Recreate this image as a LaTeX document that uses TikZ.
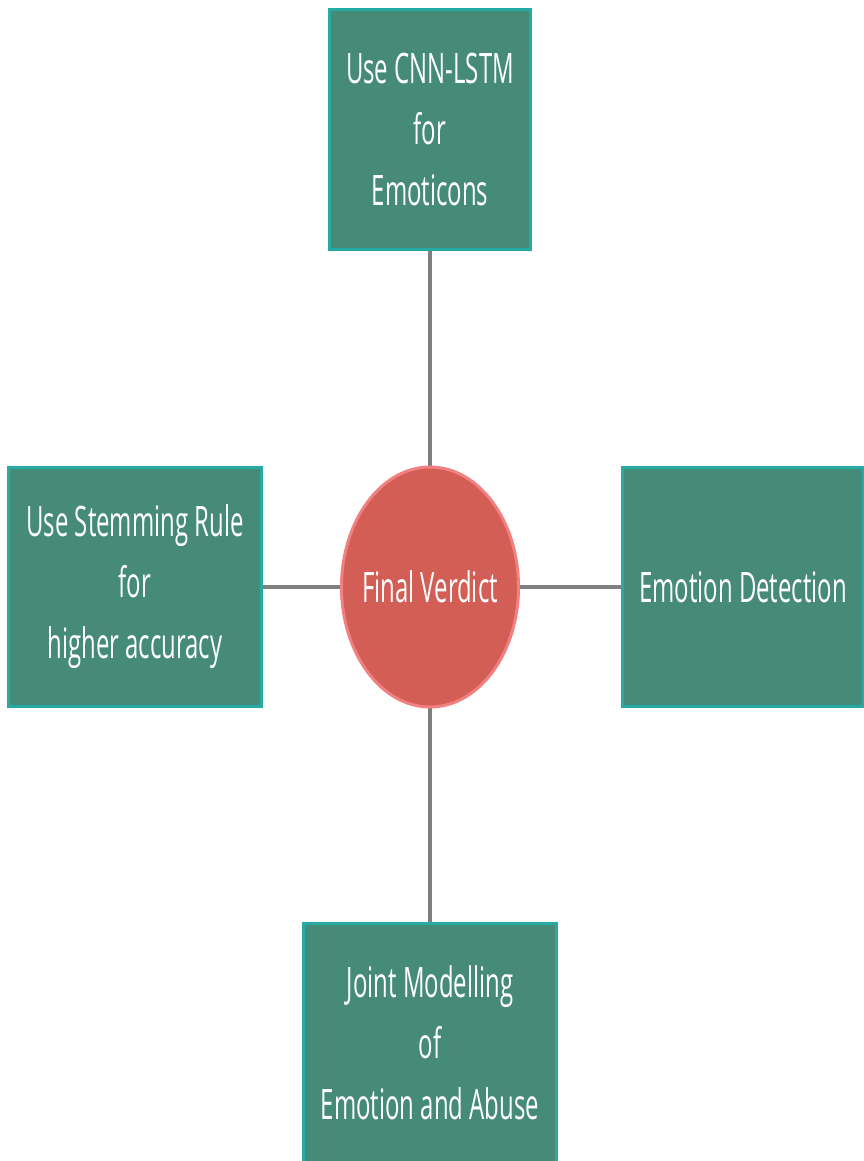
\documentclass[tikz,border=0pt]{standalone}
\usepackage{fontspec}
\setmainfont{Open Sans}[FakeStretch=0.57]
\usetikzlibrary{shapes.geometric, positioning, backgrounds}

\definecolor{boxgreen}{RGB}{69,139,119}
\definecolor{boxedge}{RGB}{38,170,165}
\definecolor{verdictred}{RGB}{211,94,85}
\definecolor{verdictedge}{RGB}{242,128,128}
\definecolor{linkgray}{RGB}{127,127,127}

\begin{document}
\begin{tikzpicture}[
    x=1pt, y=1pt,
    verdict/.style={ellipse, draw=verdictedge, fill=verdictred, line width=3pt, minimum width=177pt, minimum height=240pt, inner sep=0pt, outer sep=0pt, text=white, font=\fontsize{42}{61}\selectfont},
    idea/.style={rectangle, draw=boxedge, fill=boxgreen, line width=3pt, minimum width=253pt, minimum height=239pt, inner sep=0pt, outer sep=0pt, text=white, align=center, font=\fontsize{42}{61}\selectfont},
    link/.style={draw=linkgray, line width=4.5pt}
]
    \useasboundingbox (0,0) rectangle (863,-1161);

    % Centre
    \node[verdict] (verdict) at (430,-587) {\makebox[0pt]{Final Verdict}};

    % Ideas
    \node[idea, minimum width=201pt, above=218pt of verdict] (cnn) {Use CNN-LSTM\\for\\Emoticons};
    \node[idea, left=80pt of verdict] (stem) {Use Stemming Rule\\for\\higher accuracy};
    \node[idea, minimum width=241pt, right=104pt of verdict] (emotion) {Emotion Detection};
    \node[idea, below=216pt of verdict] (joint) {Joint Modelling\\of\\Emotion and Abuse};

    % Links
    \begin{scope}[on background layer]
    \draw[link] (verdict) -- (cnn);
    \draw[link] (verdict) -- (stem);
    \draw[link] (verdict) -- (emotion);
    \draw[link] (verdict) -- (joint);
    \end{scope}
\end{tikzpicture}
\end{document}
